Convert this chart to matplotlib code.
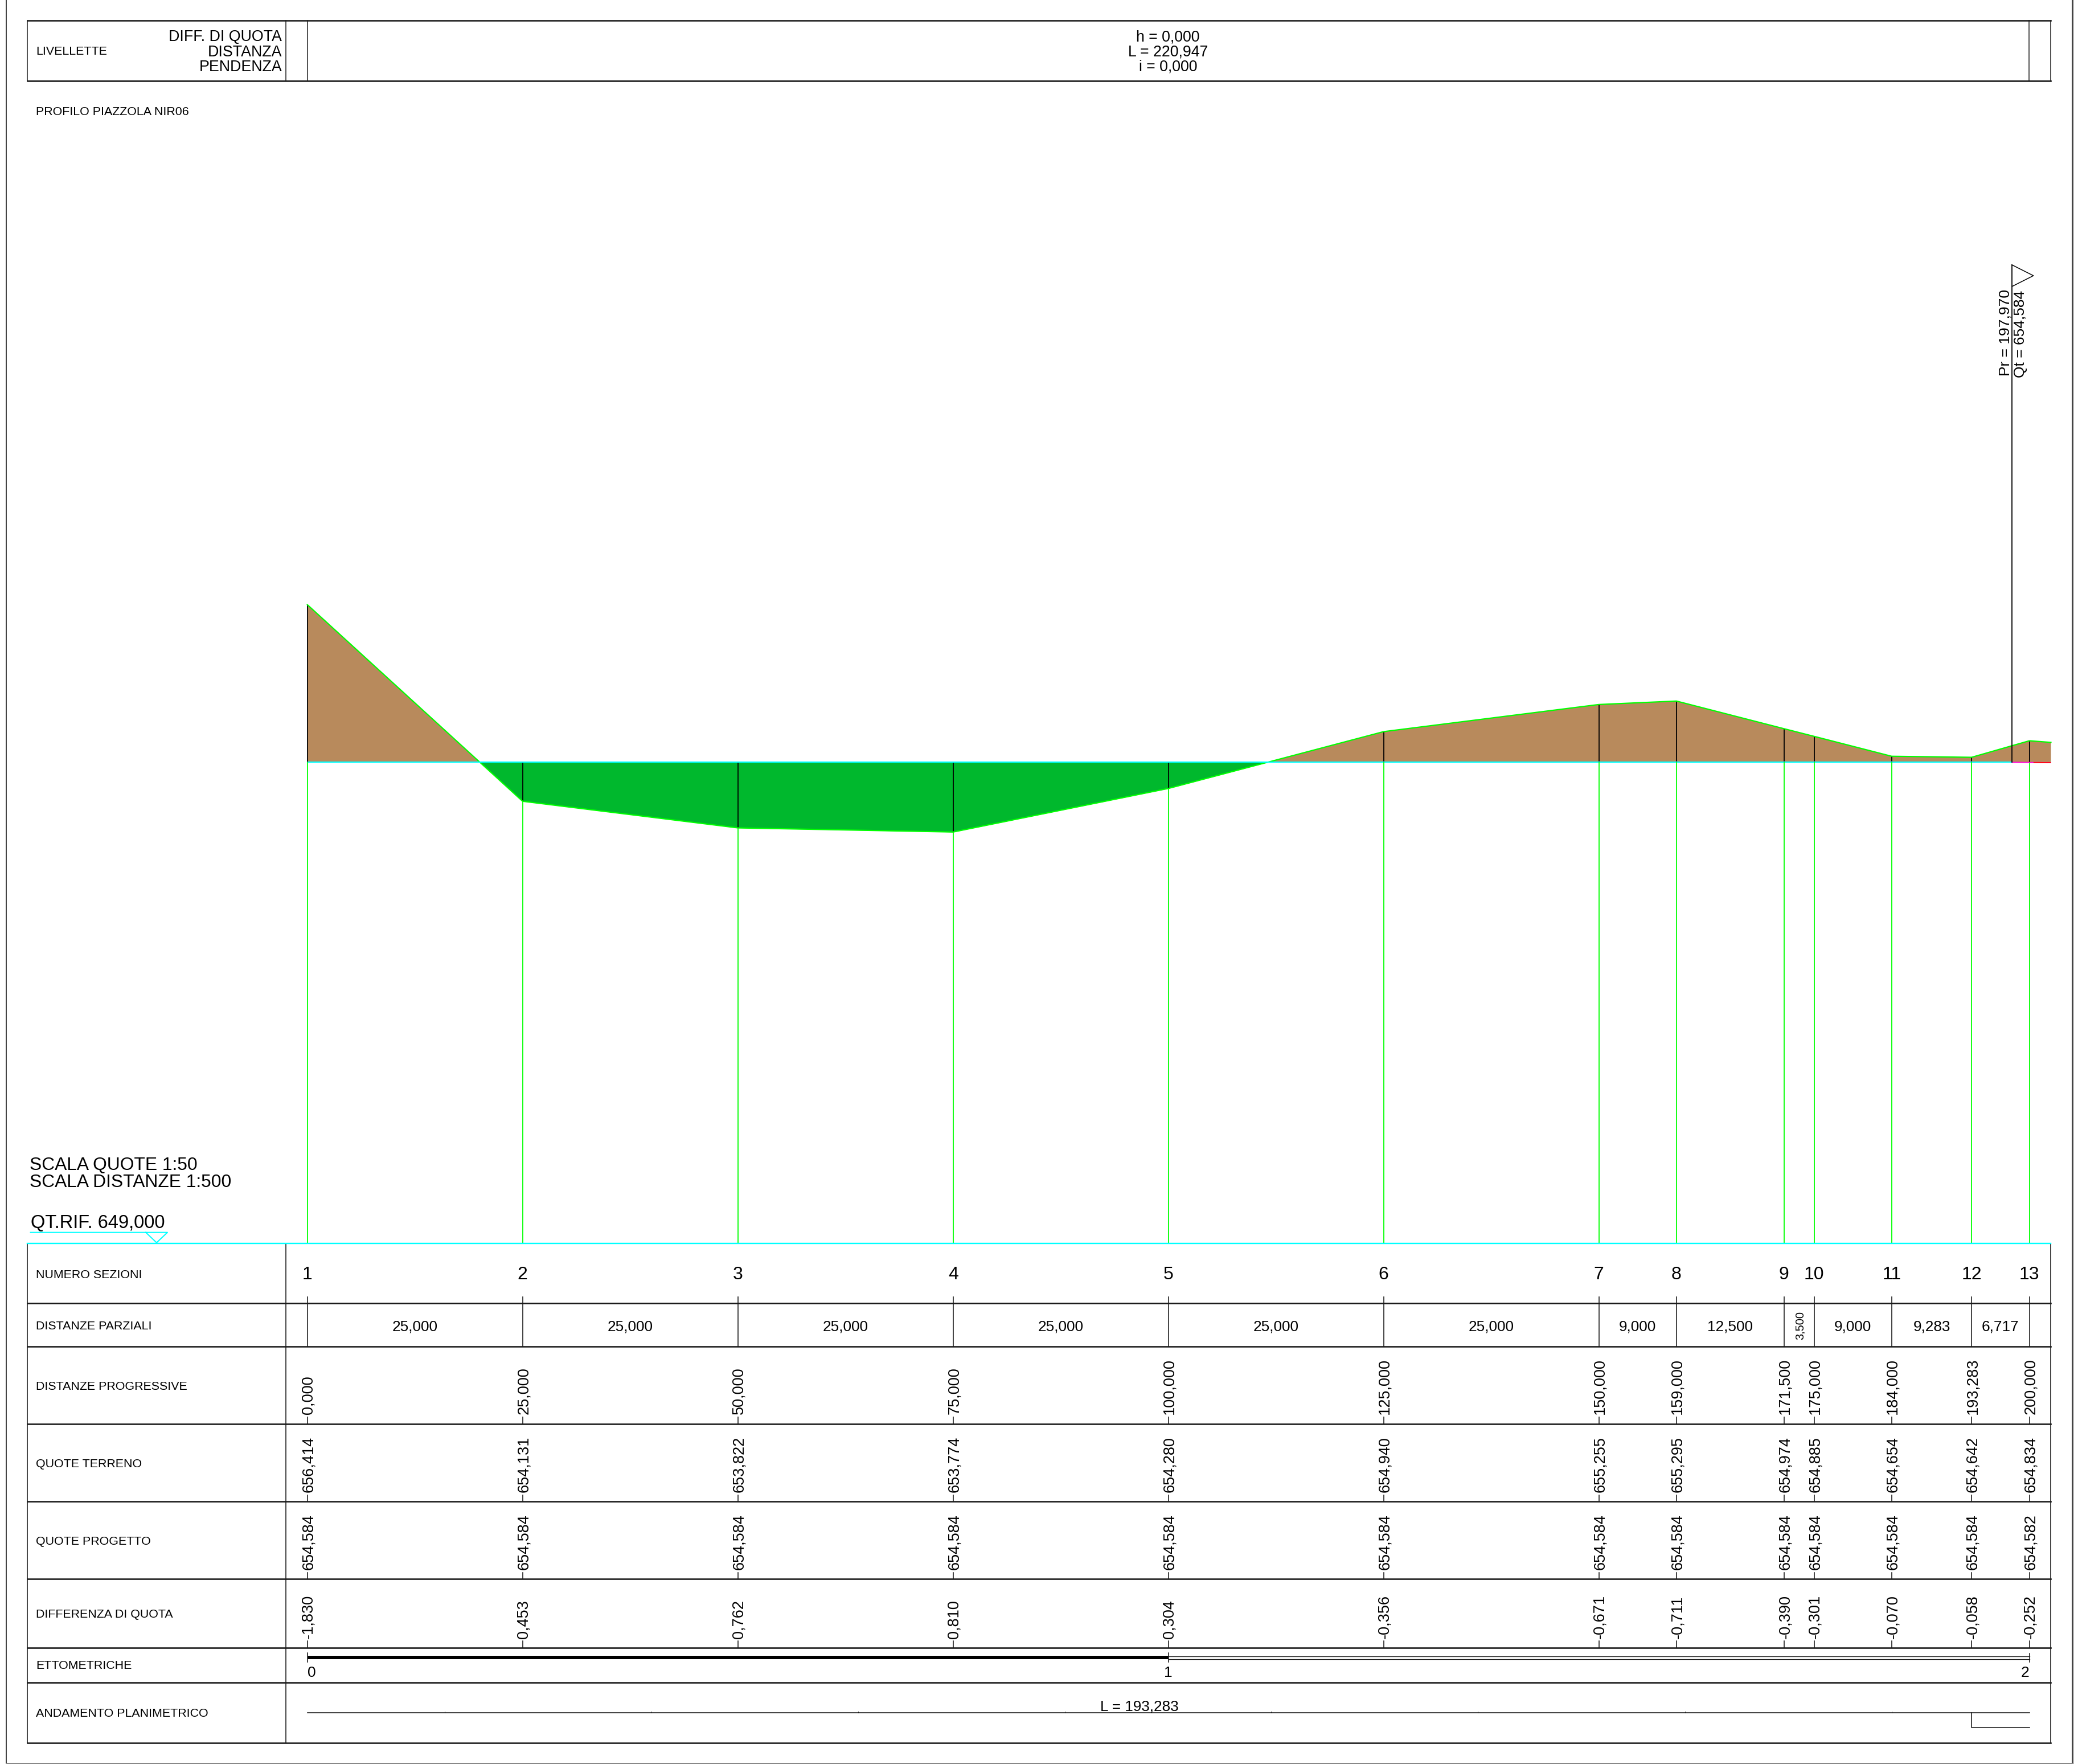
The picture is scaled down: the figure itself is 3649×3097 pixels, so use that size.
import matplotlib
matplotlib.use("Agg")
import matplotlib.pyplot as plt
from matplotlib.transforms import blended_transform_factory

OUTPUT_FILE = "out.png"

# sections
SECTION_NUMBERS = ["1", "2", "3", "4", "5", "6", "7", "8", "9", "10", "11", "12", "13"]
PROGRESSIVE = [0, 25, 50, 75, 100, 125, 150, 159, 171.5, 175, 184, 193.283, 200]
GROUND = [656.414, 654.131, 653.822, 653.774, 654.280, 654.940, 655.255, 655.295,
          654.974, 654.885, 654.654, 654.642, 654.834]
PROJECT = [654.584] * 12 + [654.582]

PARTIAL_LABELS = ["25,000", "25,000", "25,000", "25,000", "25,000", "25,000", "9,000",
                  "12,500", "3,500", "9,000", "9,283", "6,717"]
PROGRESSIVE_LABELS = ["0,000", "25,000", "50,000", "75,000", "100,000", "125,000", "150,000",
                      "159,000", "171,500", "175,000", "184,000", "193,283", "200,000"]
GROUND_LABELS = ["656,414", "654,131", "653,822", "653,774", "654,280", "654,940", "655,255",
                 "655,295", "654,974", "654,885", "654,654", "654,642", "654,834"]
PROJECT_LABELS = ["654,584"] * 12 + ["654,582"]
DIFF_LABELS = ["-1,830", "0,453", "0,762", "0,810", "0,304", "-0,356", "-0,671", "-0,711",
               "-0,390", "-0,301", "-0,070", "-0,058", "-0,252"]

# ground and project beyond the last section, up to the end of the table
END_DIST = 202.5
END_GROUND = 654.815
END_PROJECT = 654.580
PR_DIST = 197.970

ROW_LINES = [2183, 2288, 2364, 2500, 2636, 2772, 2893, 2954, 3060]
ROW_TITLES = ["NUMERO SEZIONI", "DISTANZE PARZIALI", "DISTANZE PROGRESSIVE", "QUOTE TERRENO",
              "QUOTE PROGETTO", "DIFFERENZA DI QUOTA", "ETTOMETRICHE", "ANDAMENTO PLANIMETRICO"]
ROW_TITLE_Y = [2238, 2329, 2435, 2570, 2707, 2835, 2925, 3009]

PLAN_TICKS = [781, 1144, 1507, 1870, 2232, 2595, 2959, 3322]

BROWN = "#B88A5C"
CUT_GREEN = "#00B82D"
LIME = "#00FF00"
CYAN = "#00FFFF"
DARK = "#1a1a1a"

WIDTH = 3649
HEIGHT = 3097
X0 = 539.7        # pixel of distance 0
SX = 15.12        # pixels per metre, distances
Y0 = 1338.3       # pixel of project level
SY = 151.2        # pixels per metre, heights
LEVEL = 654.584


def px(width):
    return width * 0.72


def main():
    plt.rcParams["font.family"] = ["Liberation Sans", "DejaVu Sans"]
    fig = plt.figure(figsize=(WIDTH / 100, HEIGHT / 100), dpi=100)

    # profile axes: metres on both directions
    prof = fig.add_axes([0, 0, 1, 1])
    prof.set_xlim(-X0 / SX, (WIDTH - X0) / SX)
    prof.set_ylim(LEVEL - (HEIGHT - Y0) / SY, LEVEL + Y0 / SY)
    prof.axis("off")

    # sheet axes: the drawing layout in pixels
    sheet = fig.add_axes([0, 0, 1, 1])
    sheet.set_xlim(0, WIDTH)
    sheet.set_ylim(HEIGHT, 0)
    sheet.axis("off")
    sheet.patch.set_alpha(0)

    col = blended_transform_factory(prof.transData, sheet.transData)
    nudge = 2 / SX  # rotated digits sit left of the bbox centre

    # fills
    xs = PROGRESSIVE + [END_DIST]
    gs = GROUND + [END_GROUND]
    ps = PROJECT + [END_PROJECT]
    prof.fill_between(xs, ps, gs, where=[g >= p for g, p in zip(gs, ps)], interpolate=True,
                      color=BROWN, lw=0, zorder=1)
    prof.fill_between(xs, ps, gs, where=[g <= p for g, p in zip(gs, ps)], interpolate=True,
                      color=CUT_GREEN, lw=0, zorder=1)

    # section verticals
    for d, g, p in zip(PROGRESSIVE, GROUND, PROJECT):
        prof.plot([d, d], [g, p], color="black", lw=px(1.8), zorder=2, solid_capstyle="butt")
        low = min(g, p)
        y_low = Y0 + (LEVEL - low) * SY
        sheet.plot([X0 + d * SX] * 2, [y_low, ROW_LINES[0]], color=LIME, lw=px(1.8), zorder=2,
                   solid_capstyle="butt")

    prof.plot(xs, gs, color=LIME, lw=px(2.2), zorder=3)
    prof.plot([0, PR_DIST], [LEVEL, LEVEL], color=CYAN, lw=px(2.2), zorder=4, solid_capstyle="butt")
    prof.plot([PR_DIST, END_DIST], [LEVEL, END_PROJECT], color="#FF00CC", lw=px(1.8), zorder=4,
              solid_capstyle="butt")
    prof.plot([PR_DIST + 2.5, END_DIST], [LEVEL - 0.002, END_PROJECT], color="#FF0000", lw=px(1.5),
              zorder=5, solid_capstyle="butt")

    # station flag
    sheet.plot([X0 + PR_DIST * SX] * 2, [465, Y0], color="black", lw=px(1.8), zorder=5)
    sheet.plot([X0 + PR_DIST * SX, 3570.7, X0 + PR_DIST * SX], [465, 484, 503], color="black",
               lw=px(1.5), zorder=5)
    sheet.text(3522, 660, "Pr = 197,970", rotation=90, ha="center", va="bottom", fontsize=19)
    sheet.text(3548.5, 663, "Qt = 654,584", rotation=90, ha="center", va="bottom", fontsize=19)

    # sheet frame
    sheet.plot([11, 11], [0, 3096], color="#444444", lw=px(2))
    sheet.plot([3639, 3639], [0, 3096], color="#444444", lw=px(3))
    sheet.plot([11, 3639], [3096, 3096], color="#888888", lw=px(2))

    # top box
    for y in [35.5, 141.7]:
        sheet.plot([48, 3601], [y, y], color=DARK, lw=px(2.6))
    for x in [48, 502, 540, 3563, 3601]:
        sheet.plot([x, x], [35.5, 141.7], color=DARK, lw=px(1.5))
    sheet.text(63, 90, "LIVELLETTE", ha="left", va="center", fontsize=15.4)
    for y, t in zip([65, 92, 118], ["DIFF. DI QUOTA", "DISTANZA", "PENDENZA"]):
        sheet.text(495, y, t, ha="right", va="center", fontsize=19.3)
    for y, t in zip([65, 91.5, 118], ["h = 0,000", "L = 220,947", "i = 0,000"]):
        sheet.text(2051, y, t, ha="center", va="center", fontsize=19.2)
    sheet.text(63, 197, "PROFILO PIAZZOLA NIR06", ha="left", va="center", fontsize=15.4)

    # scales
    sheet.text(52.5, 2046, "SCALA QUOTE 1:50", ha="left", va="center", fontsize=22.9)
    sheet.text(52.5, 2076, "SCALA DISTANZE 1:500", ha="left", va="center", fontsize=22.9)
    sheet.text(54, 2147, "QT.RIF. 649,000", ha="left", va="center", fontsize=23.5)
    sheet.plot([53.6, 294, 275, 256], [2163.7, 2163.7, 2181.7, 2163.7], color=CYAN, lw=px(2))
    sheet.plot([47.5, 3601], [ROW_LINES[0], ROW_LINES[0]], color=CYAN, lw=px(2.4), zorder=6)

    # table grid
    for y in ROW_LINES[1:]:
        sheet.plot([47.5, 3601], [y, y], color=DARK, lw=px(2.6))
    for x in [47.5, 501.5, 3601]:
        sheet.plot([x, x], [ROW_LINES[0], ROW_LINES[-1]], color=DARK, lw=px(1.6))
    for y, t in zip(ROW_TITLE_Y, ROW_TITLES):
        sheet.text(63, y, t, ha="left", va="center", fontsize=15.4)

    # section columns
    for i, d in enumerate(PROGRESSIVE):
        sheet.text(d, 2238, SECTION_NUMBERS[i], transform=col, ha="center", va="center", fontsize=23)
        sheet.plot([d, d], [2277, 2364], transform=col, color=DARK, lw=px(1.6))
        for low, top, bottom, label in [(2500, 2488, 2483, PROGRESSIVE_LABELS[i]),
                                        (2636, 2625, 2620, GROUND_LABELS[i]),
                                        (2772, 2761, 2756, PROJECT_LABELS[i]),
                                        (2893, 2881, 2877, DIFF_LABELS[i])]:
            sheet.plot([d, d], [top, low], transform=col, color=DARK, lw=px(1.6))
            sheet.text(d + nudge, bottom, label, transform=col, rotation=90, ha="center", va="bottom",
                       fontsize=19.5)

    for i, label in enumerate(PARTIAL_LABELS):
        mid = (PROGRESSIVE[i] + PROGRESSIVE[i + 1]) / 2
        if label == "3,500":
            sheet.text(mid + nudge, 2327, label, transform=col, rotation=90, ha="center", va="center",
                       fontsize=14.4)
        else:
            sheet.text(mid, 2329, label, transform=col, ha="center", va="center", fontsize=18.8)

    # hectometre bar
    sheet.plot([0, 100], [2910, 2910], transform=col, color="black", lw=px(6), solid_capstyle="butt")
    for y in [2907.7, 2912.7]:
        sheet.plot([100, 200], [y, y], transform=col, color=DARK, lw=px(1.3))
    for d, top in [(0, 2902), (100, 2902), (200, 2903)]:
        sheet.plot([d, d], [top, 2917.7], transform=col, color=DARK, lw=px(1.6))
    sheet.text(0, 2937, "0", transform=col, ha="left", va="center", fontsize=19)
    sheet.text(100, 2937, "1", transform=col, ha="center", va="center", fontsize=19)
    sheet.text(200, 2937, "2", transform=col, ha="right", va="center", fontsize=19)

    # plan alignment
    sheet.plot([0, 200], [3006.7, 3006.7], transform=col, color=DARK, lw=px(1.6))
    sheet.plot([193.283, 193.283, 200], [3006.7, 3033, 3033], transform=col, color=DARK, lw=px(1.6))
    for x in PLAN_TICKS:
        sheet.plot([x, x], [3004.5, 3006.7], color=DARK, lw=px(1))
    sheet.text(193.283 / 2, 3003.3, "L = 193,283", transform=col, ha="center", va="baseline",
               fontsize=18.8)

    fig.savefig(OUTPUT_FILE, dpi=100, facecolor="white")


if __name__ == "__main__":
    main()
